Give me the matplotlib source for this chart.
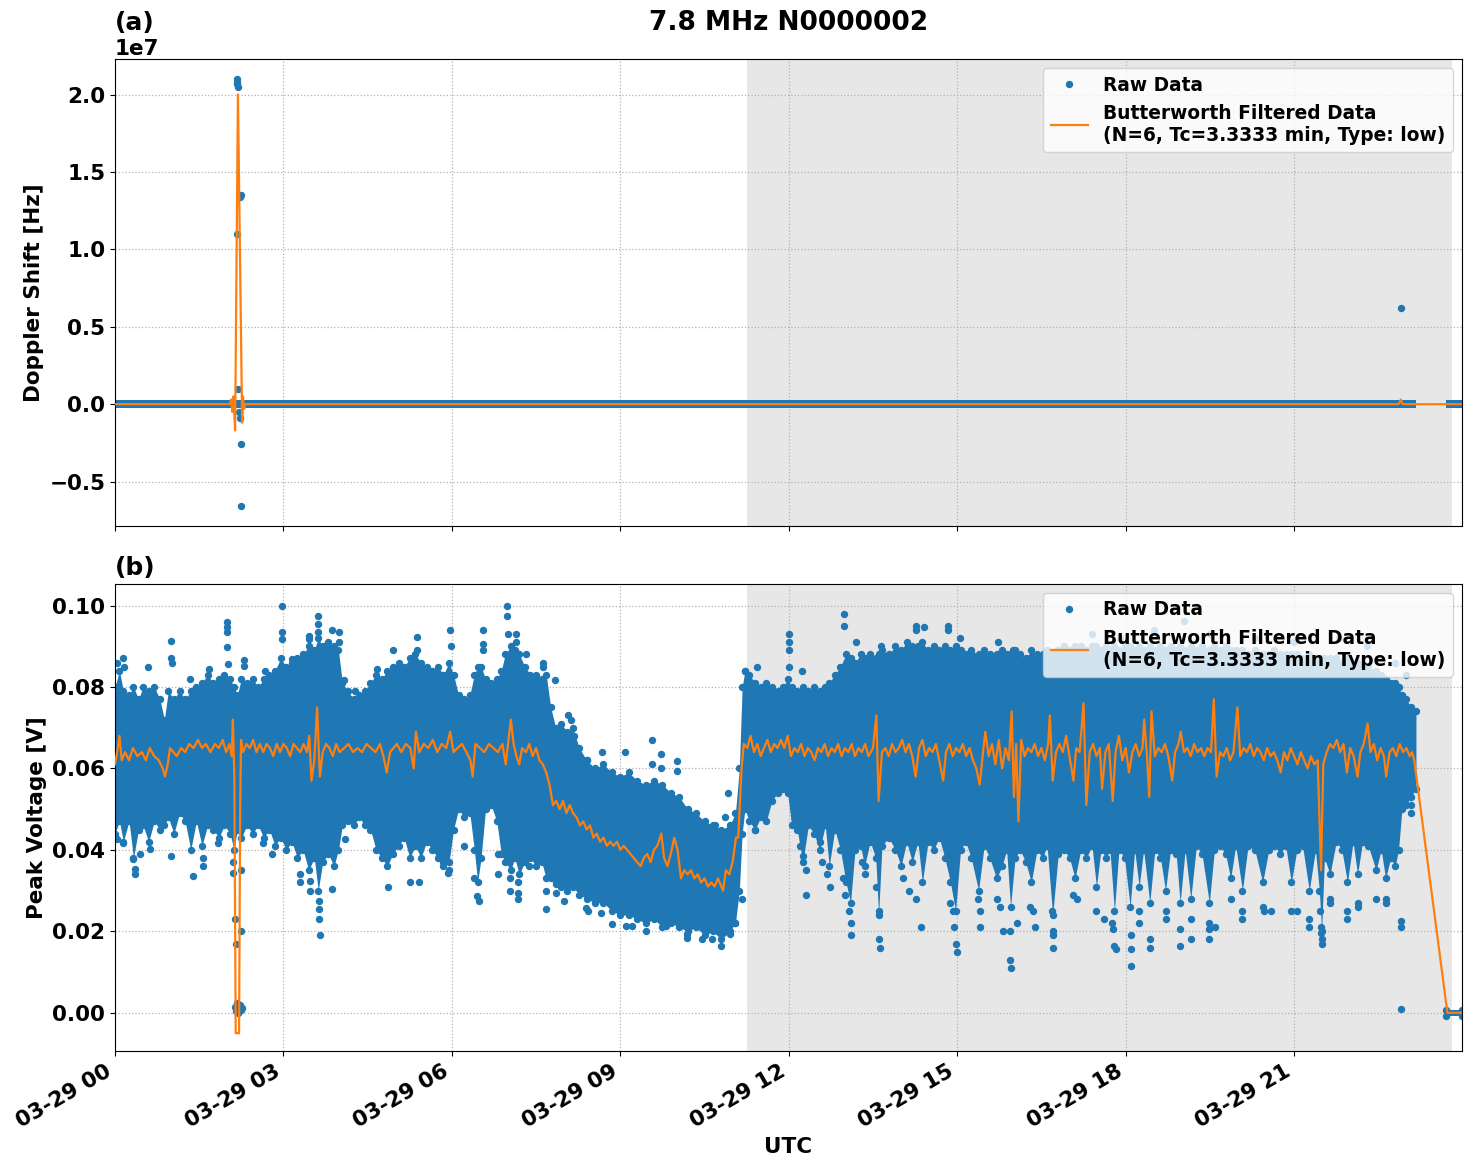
#!/usr/bin/env python3
"""Doppler shift / peak voltage for 7.8 MHz N0000002, raw vs Butterworth filtered."""

import datetime as dt

import matplotlib

matplotlib.use("Agg")
import matplotlib.dates as mdates
import matplotlib.pyplot as plt
import numpy as np

DAY = dt.datetime(2024, 3, 29)
TITLE = "7.8 MHz N0000002"
FILT_LABEL = "Butterworth Filtered Data\n(N=6, Tc=3.3333 min, Type: low)"

# shaded interval, hours UTC
shade_h = (11.25, 23.81)
# x range, hours UTC
xlim_h = (0.0, 23.99)

# ---- (a) Doppler shift [Hz] ----
# raw data sits on 0 most of the day: (start_h, end_h, half_thickness)
dop_band = [(0.0, 23.17, 0.024e7), (23.71, 23.99, 0.024e7)]
# raw outliers (hour, Hz)
dop_raw_pts = [
    (2.18, 2.10e7), (2.18, 2.08e7), (2.18, 2.065e7), (2.185, 2.05e7),
    (2.24, 1.35e7), (2.23, 1.34e7), (2.18, 1.10e7), (2.20, 0.10e7),
    (2.21, -0.05e7), (2.22, -0.09e7), (2.25, -0.26e7), (2.25, -0.66e7),
    (22.90, 0.62e7),
]
# filtered (hour, Hz)
dop_filt = [
    (0.00, 0.0), (2.04, 0.0), (2.07, 0.03e7), (2.09, -0.05e7), (2.11, 0.05e7),
    (2.14, -0.17e7), (2.19, 2.0e7), (2.265, -0.12e7), (2.28, 0.05e7),
    (2.30, -0.03e7), (2.32, 0.0), (22.86, 0.0), (22.90, 0.03e7), (22.93, 0.0),
    (23.99, 0.0),
]

# ---- (b) Peak voltage [V] ----
# dense raw cloud: (hour, lower edge, upper edge)
volt_band = [
    (0.00, 0.044, 0.080), (0.08, 0.047, 0.084), (0.15, 0.042, 0.079), (0.25, 0.047, 0.078),
    (0.33, 0.038, 0.080), (0.42, 0.045, 0.077), (0.50, 0.046, 0.080), (0.60, 0.042, 0.079),
    (0.70, 0.047, 0.080), (0.80, 0.045, 0.077), (0.88, 0.046, 0.072), (0.95, 0.048, 0.079),
    (1.05, 0.044, 0.077), (1.15, 0.049, 0.079), (1.25, 0.047, 0.077), (1.35, 0.040, 0.079),
    (1.45, 0.047, 0.080), (1.55, 0.041, 0.081), (1.65, 0.046, 0.083), (1.75, 0.045, 0.081),
    (1.85, 0.043, 0.082), (1.95, 0.046, 0.083), (2.05, 0.044, 0.082), (2.12, 0.040, 0.080),
    (2.18, 0.045, 0.078), (2.25, 0.043, 0.082), (2.35, 0.046, 0.081), (2.45, 0.044, 0.082),
    (2.55, 0.046, 0.080), (2.65, 0.043, 0.082), (2.75, 0.045, 0.083), (2.85, 0.041, 0.084),
    (2.95, 0.043, 0.087), (3.05, 0.040, 0.085), (3.15, 0.042, 0.086), (3.25, 0.038, 0.087),
    (3.35, 0.040, 0.088), (3.45, 0.035, 0.090), (3.55, 0.038, 0.089), (3.62, 0.030, 0.092),
    (3.70, 0.037, 0.090), (3.80, 0.039, 0.091), (3.90, 0.036, 0.090), (3.98, 0.040, 0.089),
    (4.05, 0.046, 0.081), (4.15, 0.047, 0.079), (4.25, 0.046, 0.077), (4.35, 0.048, 0.078),
    (4.45, 0.046, 0.079), (4.55, 0.045, 0.081), (4.65, 0.040, 0.083), (4.75, 0.038, 0.082),
    (4.85, 0.036, 0.084), (4.95, 0.039, 0.085), (5.05, 0.041, 0.086), (5.15, 0.043, 0.085),
    (5.25, 0.038, 0.087), (5.35, 0.041, 0.088), (5.45, 0.038, 0.086), (5.55, 0.042, 0.085),
    (5.65, 0.040, 0.084), (5.75, 0.038, 0.085), (5.85, 0.036, 0.083), (5.95, 0.037, 0.086),
    (6.03, 0.045, 0.083), (6.12, 0.050, 0.078), (6.22, 0.048, 0.077), (6.32, 0.049, 0.078),
    (6.40, 0.040, 0.083), (6.46, 0.032, 0.085), (6.52, 0.038, 0.085), (6.60, 0.050, 0.082),
    (6.70, 0.051, 0.081), (6.80, 0.047, 0.082), (6.88, 0.039, 0.084), (6.95, 0.037, 0.088),
    (7.05, 0.035, 0.090), (7.12, 0.038, 0.089), (7.20, 0.034, 0.088), (7.30, 0.037, 0.085),
    (7.40, 0.038, 0.083), (7.50, 0.036, 0.083), (7.60, 0.037, 0.082), (7.68, 0.033, 0.083),
    (7.76, 0.033, 0.075), (7.85, 0.032, 0.070), (7.95, 0.031, 0.071), (8.05, 0.030, 0.069),
    (8.15, 0.031, 0.070), (8.27, 0.029, 0.065), (8.40, 0.028, 0.062), (8.55, 0.027, 0.060),
    (8.70, 0.027, 0.061), (8.85, 0.025, 0.059), (9.00, 0.024, 0.058), (9.15, 0.024, 0.059),
    (9.30, 0.023, 0.057), (9.45, 0.022, 0.056), (9.60, 0.023, 0.057), (9.75, 0.021, 0.056),
    (9.90, 0.022, 0.054), (10.05, 0.021, 0.053), (10.20, 0.020, 0.050), (10.35, 0.021, 0.049),
    (10.50, 0.019, 0.047), (10.65, 0.020, 0.046), (10.80, 0.018, 0.045), (10.95, 0.020, 0.046),
    (11.05, 0.022, 0.049), (11.12, 0.030, 0.060), (11.17, 0.044, 0.080), (11.22, 0.050, 0.084),
    (11.30, 0.047, 0.083), (11.40, 0.045, 0.081), (11.50, 0.048, 0.080), (11.60, 0.047, 0.081),
    (11.70, 0.052, 0.080), (11.80, 0.054, 0.079), (11.90, 0.055, 0.080), (11.98, 0.054, 0.082),
    (12.05, 0.046, 0.080), (12.15, 0.045, 0.079), (12.25, 0.037, 0.080), (12.35, 0.046, 0.079),
    (12.45, 0.044, 0.080), (12.55, 0.040, 0.079), (12.65, 0.046, 0.080), (12.72, 0.036, 0.081),
    (12.82, 0.045, 0.083), (12.92, 0.040, 0.085), (13.02, 0.032, 0.088), (13.10, 0.027, 0.087),
    (13.18, 0.040, 0.086), (13.28, 0.041, 0.088), (13.35, 0.036, 0.087), (13.45, 0.042, 0.088),
    (13.55, 0.038, 0.087), (13.60, 0.024, 0.088), (13.66, 0.041, 0.089), (13.78, 0.043, 0.088),
    (13.90, 0.040, 0.090), (14.00, 0.036, 0.089), (14.10, 0.042, 0.091), (14.20, 0.037, 0.090),
    (14.30, 0.042, 0.090), (14.38, 0.032, 0.091), (14.48, 0.042, 0.089), (14.58, 0.040, 0.090),
    (14.68, 0.043, 0.089), (14.78, 0.038, 0.090), (14.88, 0.032, 0.089), (14.97, 0.025, 0.090),
    (15.06, 0.040, 0.089), (15.15, 0.042, 0.088), (15.25, 0.038, 0.089), (15.38, 0.030, 0.088),
    (15.48, 0.041, 0.089), (15.58, 0.038, 0.088), (15.70, 0.033, 0.088), (15.80, 0.036, 0.089),
    (15.88, 0.040, 0.088), (15.95, 0.026, 0.088), (16.03, 0.038, 0.089), (16.12, 0.040, 0.088),
    (16.22, 0.037, 0.087), (16.32, 0.032, 0.089), (16.42, 0.040, 0.088), (16.52, 0.038, 0.088),
    (16.60, 0.041, 0.089), (16.70, 0.024, 0.088), (16.80, 0.039, 0.089), (16.90, 0.040, 0.090),
    (17.00, 0.038, 0.089), (17.10, 0.033, 0.090), (17.20, 0.040, 0.090), (17.30, 0.038, 0.089),
    (17.40, 0.041, 0.090), (17.48, 0.031, 0.090), (17.56, 0.040, 0.089), (17.65, 0.038, 0.090),
    (17.72, 0.040, 0.089), (17.80, 0.025, 0.090), (17.88, 0.040, 0.089), (17.98, 0.038, 0.090),
    (18.08, 0.026, 0.090), (18.16, 0.040, 0.089), (18.24, 0.031, 0.090), (18.32, 0.040, 0.089),
    (18.43, 0.027, 0.090), (18.52, 0.040, 0.089), (18.62, 0.038, 0.090), (18.71, 0.030, 0.089),
    (18.80, 0.040, 0.090), (18.90, 0.039, 0.089), (18.97, 0.027, 0.090), (19.06, 0.040, 0.089),
    (19.16, 0.028, 0.090), (19.26, 0.041, 0.089), (19.36, 0.039, 0.090), (19.49, 0.027, 0.089),
    (19.58, 0.040, 0.090), (19.68, 0.041, 0.089), (19.78, 0.039, 0.090), (19.87, 0.033, 0.089),
    (19.96, 0.041, 0.089), (20.08, 0.030, 0.089), (20.18, 0.041, 0.088), (20.30, 0.040, 0.089),
    (20.44, 0.032, 0.088), (20.55, 0.040, 0.088), (20.65, 0.041, 0.089), (20.75, 0.039, 0.088),
    (20.85, 0.041, 0.088), (20.95, 0.032, 0.088), (21.05, 0.040, 0.088), (21.15, 0.041, 0.087),
    (21.27, 0.030, 0.088), (21.38, 0.040, 0.087), (21.45, 0.030, 0.087), (21.49, 0.020, 0.087),
    (21.54, 0.038, 0.087), (21.64, 0.034, 0.087), (21.75, 0.042, 0.087), (21.85, 0.040, 0.086),
    (21.95, 0.032, 0.087), (22.05, 0.042, 0.086), (22.13, 0.034, 0.086), (22.22, 0.042, 0.085),
    (22.32, 0.041, 0.085), (22.46, 0.035, 0.084), (22.55, 0.040, 0.083), (22.63, 0.033, 0.082),
    (22.72, 0.038, 0.081), (22.80, 0.036, 0.081), (22.86, 0.040, 0.080), (22.92, 0.050, 0.078),
    (23.00, 0.051, 0.077), (23.08, 0.053, 0.075), (23.17, 0.055, 0.074),
]
# raw zeros after the gap at the end of the day
volt_zero_band = [(23.71, -0.0008, 0.0008), (23.99, -0.0008, 0.0008)]

# scattered raw points outside the dense cloud (hour, V)
volt_raw_pts = [
    # 00-06 upper
    (0.03, 0.086), (0.15, 0.087), (0.16, 0.085), (0.59, 0.085), (1.00, 0.0914),
    (1.00, 0.087), (1.01, 0.086), (1.33, 0.082), (1.67, 0.0844), (2.00, 0.0959),
    (2.00, 0.0947), (2.00, 0.0934), (2.00, 0.0898), (2.01, 0.0857), (2.29, 0.0865),
    (2.29, 0.0852), (2.67, 0.084), (2.98, 0.100), (2.98, 0.0934), (2.98, 0.0918),
    (3.16, 0.0869), (3.29, 0.0865), (3.46, 0.0926), (3.46, 0.0918), (3.61, 0.0975),
    (3.61, 0.0955), (3.61, 0.0934), (3.87, 0.094), (3.99, 0.0934), (3.99, 0.091),
    (4.08, 0.0816), (4.28, 0.079), (4.67, 0.0844), (4.96, 0.089), (5.38, 0.0922),
    (5.38, 0.089), (5.82, 0.083), (5.97, 0.094), (5.98, 0.090),
    # 00-06 lower
    (0.03, 0.0426), (0.15, 0.0418), (0.32, 0.0377), (0.35, 0.0352), (0.35, 0.034),
    (0.44, 0.039), (0.62, 0.0402), (1.00, 0.0385), (1.39, 0.0336), (1.57, 0.038),
    (1.57, 0.036), (1.83, 0.0418), (2.10, 0.0369), (2.11, 0.0344), (2.14, 0.023),
    (2.15, 0.0168), (2.24, 0.020), (2.24, 0.035), (2.63, 0.0418), (2.80, 0.039),
    (3.29, 0.034), (3.29, 0.032), (3.48, 0.0324), (3.48, 0.030), (3.63, 0.0275),
    (3.63, 0.0254), (3.64, 0.023), (3.65, 0.019), (3.87, 0.0303), (4.10, 0.0426),
    (4.87, 0.031), (5.26, 0.032), (5.42, 0.032), (5.77, 0.041), (5.85, 0.037),
    (5.94, 0.0344), (5.95, 0.035),
    # drop-out to zero near 02:10
    (2.14, 0.0015), (2.16, 0.0005), (2.18, 0.001), (2.18, 0.0025), (2.20, 0.0),
    (2.22, 0.002), (2.24, 0.0008), (2.27, 0.0012),
    # 06-11 upper
    (6.55, 0.094), (6.55, 0.0906), (6.56, 0.089), (6.99, 0.100), (6.99, 0.0975),
    (7.00, 0.093), (7.15, 0.093), (7.15, 0.091), (7.32, 0.088), (7.62, 0.086),
    (7.62, 0.085), (7.83, 0.0816), (8.07, 0.073), (8.12, 0.072), (8.18, 0.068),
    (8.40, 0.062), (8.67, 0.064), (8.70, 0.059), (9.09, 0.064), (9.57, 0.067),
    (9.57, 0.061), (9.73, 0.0635), (9.73, 0.060), (10.01, 0.0617), (10.01, 0.0594),
    (10.20, 0.0496), (10.48, 0.046), (10.69, 0.046), (10.86, 0.048), (10.92, 0.054),
    (11.22, 0.084), (11.43, 0.085),
    # 06-11 lower
    (6.22, 0.041), (6.40, 0.033), (6.45, 0.0287), (6.49, 0.0275), (6.83, 0.039),
    (6.83, 0.034), (7.04, 0.033), (7.04, 0.030), (7.17, 0.032), (7.17, 0.0295),
    (7.17, 0.028), (7.38, 0.036), (7.67, 0.030), (7.67, 0.0254), (7.86, 0.0316),
    (7.86, 0.0295), (8.00, 0.0275), (8.39, 0.0258), (8.42, 0.025), (8.66, 0.0246),
    (8.85, 0.0217), (9.10, 0.0213), (9.20, 0.0213), (9.46, 0.020), (9.82, 0.0213),
    (10.19, 0.0193), (10.19, 0.0184), (10.45, 0.018), (10.63, 0.018), (10.80, 0.0164),
    (10.95, 0.0193), (11.04, 0.022), (11.16, 0.0279), (11.40, 0.050), (11.40, 0.045),
    # 12-17 upper
    (12.00, 0.093), (12.00, 0.091), (12.00, 0.089), (12.00, 0.085), (12.24, 0.084),
    (12.99, 0.098), (12.99, 0.095), (13.20, 0.091), (13.65, 0.090), (14.27, 0.095),
    (14.27, 0.094), (14.40, 0.0947), (14.84, 0.095), (14.84, 0.094), (15.05, 0.092),
    (15.73, 0.091), (15.99, 0.089),
    # 12-17 lower
    (12.20, 0.041), (12.25, 0.0385), (12.30, 0.035), (12.30, 0.029), (12.55, 0.042),
    (12.60, 0.037), (12.68, 0.034), (12.73, 0.031), (12.96, 0.033), (13.00, 0.029),
    (13.08, 0.025), (13.11, 0.022), (13.11, 0.019), (13.30, 0.037), (13.35, 0.034),
    (13.56, 0.031), (13.60, 0.025), (13.60, 0.018), (13.62, 0.016), (14.04, 0.033),
    (14.15, 0.030), (14.27, 0.028), (14.36, 0.021), (14.87, 0.027), (14.92, 0.025),
    (14.95, 0.021), (14.97, 0.017), (14.99, 0.015), (15.37, 0.028), (15.40, 0.025),
    (15.40, 0.021), (15.70, 0.028), (15.76, 0.026), (15.82, 0.020), (15.94, 0.020),
    (15.94, 0.013), (15.95, 0.011), (16.06, 0.022), (16.30, 0.026), (16.35, 0.025),
    (16.39, 0.021), (16.68, 0.025), (16.70, 0.020), (16.70, 0.019), (16.71, 0.016),
    (17.07, 0.029), (17.13, 0.028),
    # 17-23 upper (partly behind the legend)
    (17.40, 0.093), (17.90, 0.092), (18.50, 0.094), (19.04, 0.0963), (19.50, 0.093),
    (20.30, 0.092), (21.00, 0.091), (21.80, 0.092), (22.30, 0.090), (22.80, 0.086),
    (23.00, 0.083),
    # 17-23 lower
    (17.47, 0.025), (17.61, 0.023), (17.76, 0.022), (17.78, 0.0205), (17.80, 0.0164),
    (17.82, 0.0156), (18.09, 0.019), (18.09, 0.0156), (18.09, 0.0115), (18.24, 0.025),
    (18.24, 0.022), (18.43, 0.018), (18.43, 0.016), (18.71, 0.023), (18.71, 0.025),
    (18.97, 0.0205), (18.97, 0.0164), (19.16, 0.023), (19.16, 0.018), (19.49, 0.022),
    (19.49, 0.0205), (19.49, 0.018), (19.60, 0.021), (19.87, 0.028), (20.08, 0.025),
    (20.08, 0.023), (20.44, 0.026), (20.46, 0.025), (20.58, 0.025), (20.94, 0.025),
    (21.06, 0.025), (21.27, 0.023), (21.27, 0.021), (21.47, 0.025), (21.48, 0.021),
    (21.48, 0.0197), (21.50, 0.018), (21.50, 0.017), (21.64, 0.028), (21.64, 0.027),
    (21.95, 0.025), (21.95, 0.023), (22.13, 0.027), (22.13, 0.026), (22.46, 0.028),
    (22.63, 0.028), (22.63, 0.027), (22.90, 0.0225), (22.90, 0.021), (22.90, 0.001),
    (23.08, 0.051), (23.08, 0.049),
]

# Butterworth filtered peak voltage (hour, V)
volt_filt = [
    (0.00, 0.061), (0.05, 0.065), (0.08, 0.068), (0.12, 0.062), (0.18, 0.064),
    (0.25, 0.062), (0.32, 0.065), (0.40, 0.063), (0.48, 0.064), (0.55, 0.062),
    (0.62, 0.065), (0.70, 0.063), (0.78, 0.062), (0.85, 0.060), (0.89, 0.058),
    (0.94, 0.061), (0.98, 0.065), (1.04, 0.064), (1.10, 0.063), (1.18, 0.065),
    (1.25, 0.064), (1.32, 0.066), (1.40, 0.065), (1.48, 0.067), (1.55, 0.065),
    (1.62, 0.066), (1.70, 0.064), (1.78, 0.066), (1.85, 0.065), (1.92, 0.067),
    (1.98, 0.064), (2.04, 0.066), (2.08, 0.063), (2.10, 0.072), (2.126, 0.058),
    (2.15, -0.005), (2.21, -0.005), (2.23, 0.050), (2.245, 0.067), (2.28, 0.064),
    (2.34, 0.066), (2.40, 0.065), (2.46, 0.067), (2.52, 0.064), (2.58, 0.066),
    (2.64, 0.064), (2.70, 0.066), (2.76, 0.065), (2.82, 0.063), (2.88, 0.066),
    (2.94, 0.064), (3.00, 0.066), (3.06, 0.065), (3.12, 0.063), (3.18, 0.066),
    (3.24, 0.065), (3.30, 0.064), (3.36, 0.066), (3.42, 0.064), (3.46, 0.068),
    (3.50, 0.057), (3.55, 0.062), (3.60, 0.075), (3.65, 0.058), (3.70, 0.064),
    (3.76, 0.066), (3.82, 0.065), (3.88, 0.063), (3.94, 0.066), (4.00, 0.064),
    (4.08, 0.065), (4.16, 0.066), (4.24, 0.064), (4.32, 0.065), (4.40, 0.064),
    (4.48, 0.066), (4.56, 0.065), (4.64, 0.064), (4.72, 0.066), (4.78, 0.063),
    (4.84, 0.059), (4.90, 0.064), (4.96, 0.065), (5.02, 0.066), (5.10, 0.064),
    (5.18, 0.066), (5.26, 0.065), (5.32, 0.060), (5.36, 0.069), (5.42, 0.064),
    (5.50, 0.066), (5.58, 0.065), (5.66, 0.067), (5.74, 0.064), (5.82, 0.066),
    (5.90, 0.065), (5.97, 0.069), (6.03, 0.064), (6.10, 0.065), (6.18, 0.066),
    (6.26, 0.064), (6.33, 0.062), (6.37, 0.058), (6.42, 0.066), (6.50, 0.065),
    (6.58, 0.064), (6.66, 0.066), (6.74, 0.065), (6.82, 0.064), (6.90, 0.066),
    (6.96, 0.061), (7.00, 0.066), (7.05, 0.072), (7.10, 0.066), (7.15, 0.063),
    (7.20, 0.061), (7.25, 0.065), (7.32, 0.064), (7.38, 0.066), (7.44, 0.063),
    (7.50, 0.065), (7.56, 0.062), (7.62, 0.061), (7.68, 0.059), (7.74, 0.056),
    (7.80, 0.051), (7.86, 0.052), (7.92, 0.050), (7.98, 0.052), (8.04, 0.049),
    (8.10, 0.051), (8.16, 0.049), (8.22, 0.048), (8.28, 0.046), (8.34, 0.047),
    (8.40, 0.045), (8.46, 0.046), (8.52, 0.043), (8.58, 0.044), (8.64, 0.042),
    (8.70, 0.043), (8.76, 0.041), (8.82, 0.042), (8.88, 0.041), (8.94, 0.042),
    (9.00, 0.040), (9.06, 0.041), (9.12, 0.040), (9.18, 0.039), (9.24, 0.038),
    (9.30, 0.037), (9.36, 0.036), (9.42, 0.038), (9.48, 0.039), (9.54, 0.037),
    (9.60, 0.040), (9.66, 0.041), (9.73, 0.044), (9.78, 0.038), (9.84, 0.036),
    (9.90, 0.039), (9.96, 0.043), (10.02, 0.040), (10.08, 0.033), (10.14, 0.035),
    (10.20, 0.034), (10.26, 0.035), (10.32, 0.033), (10.38, 0.034), (10.44, 0.032),
    (10.50, 0.033), (10.56, 0.031), (10.62, 0.032), (10.68, 0.031), (10.74, 0.033),
    (10.80, 0.031), (10.83, 0.030), (10.88, 0.035), (10.94, 0.034), (11.00, 0.037),
    (11.06, 0.043), (11.10, 0.043), (11.16, 0.060), (11.20, 0.066), (11.26, 0.065),
    (11.32, 0.068), (11.38, 0.064), (11.44, 0.066), (11.50, 0.063), (11.56, 0.065),
    (11.62, 0.067), (11.68, 0.064), (11.74, 0.066), (11.80, 0.065), (11.86, 0.067),
    (11.92, 0.065), (11.98, 0.068), (12.04, 0.063), (12.10, 0.065), (12.16, 0.064),
    (12.22, 0.066), (12.28, 0.063), (12.34, 0.065), (12.40, 0.064), (12.46, 0.062),
    (12.52, 0.065), (12.58, 0.064), (12.64, 0.066), (12.70, 0.063), (12.76, 0.065),
    (12.82, 0.064), (12.88, 0.066), (12.94, 0.063), (13.00, 0.065), (13.06, 0.064),
    (13.12, 0.066), (13.18, 0.063), (13.24, 0.065), (13.30, 0.064), (13.36, 0.066),
    (13.42, 0.063), (13.50, 0.065), (13.56, 0.073), (13.60, 0.052), (13.66, 0.064),
    (13.72, 0.065), (13.78, 0.063), (13.84, 0.066), (13.90, 0.064), (13.96, 0.065),
    (14.02, 0.067), (14.08, 0.064), (14.14, 0.066), (14.20, 0.063), (14.26, 0.058),
    (14.32, 0.065), (14.38, 0.067), (14.44, 0.063), (14.50, 0.065), (14.56, 0.064),
    (14.62, 0.066), (14.68, 0.062), (14.75, 0.057), (14.80, 0.064), (14.86, 0.066),
    (14.92, 0.063), (14.98, 0.065), (15.04, 0.064), (15.10, 0.066), (15.16, 0.063),
    (15.22, 0.065), (15.28, 0.062), (15.34, 0.060), (15.40, 0.056), (15.46, 0.064),
    (15.50, 0.069), (15.56, 0.063), (15.62, 0.066), (15.68, 0.061), (15.74, 0.067),
    (15.80, 0.060), (15.86, 0.065), (15.92, 0.062), (15.97, 0.074), (16.01, 0.053),
    (16.05, 0.066), (16.09, 0.047), (16.14, 0.067), (16.20, 0.063), (16.26, 0.065),
    (16.32, 0.064), (16.38, 0.066), (16.44, 0.063), (16.50, 0.065), (16.56, 0.062),
    (16.62, 0.066), (16.65, 0.073), (16.70, 0.057), (16.76, 0.064), (16.82, 0.066),
    (16.88, 0.064), (16.94, 0.068), (17.00, 0.063), (17.07, 0.057), (17.12, 0.065),
    (17.18, 0.064), (17.25, 0.076), (17.30, 0.051), (17.36, 0.064), (17.42, 0.066),
    (17.48, 0.063), (17.54, 0.065), (17.58, 0.055), (17.64, 0.064), (17.70, 0.066),
    (17.77, 0.052), (17.82, 0.064), (17.88, 0.068), (17.94, 0.062), (18.00, 0.065),
    (18.06, 0.059), (18.12, 0.064), (18.18, 0.066), (18.24, 0.063), (18.30, 0.065),
    (18.33, 0.072), (18.38, 0.063), (18.42, 0.053), (18.46, 0.074), (18.52, 0.063),
    (18.58, 0.065), (18.64, 0.064), (18.70, 0.066), (18.76, 0.063), (18.83, 0.057),
    (18.88, 0.064), (18.94, 0.066), (18.98, 0.069), (19.04, 0.064), (19.10, 0.065),
    (19.16, 0.063), (19.22, 0.066), (19.28, 0.064), (19.34, 0.065), (19.40, 0.063),
    (19.46, 0.065), (19.52, 0.064), (19.57, 0.077), (19.62, 0.058), (19.68, 0.064),
    (19.74, 0.063), (19.80, 0.065), (19.86, 0.062), (19.92, 0.064), (19.99, 0.075),
    (20.04, 0.063), (20.10, 0.065), (20.16, 0.064), (20.22, 0.066), (20.28, 0.063),
    (20.34, 0.065), (20.40, 0.064), (20.46, 0.062), (20.52, 0.065), (20.58, 0.063),
    (20.64, 0.064), (20.70, 0.062), (20.76, 0.059), (20.82, 0.064), (20.88, 0.062),
    (20.94, 0.065), (21.00, 0.063), (21.06, 0.061), (21.12, 0.064), (21.18, 0.062),
    (21.24, 0.060), (21.30, 0.063), (21.36, 0.061), (21.42, 0.062), (21.48, 0.035),
    (21.52, 0.061), (21.58, 0.064), (21.64, 0.066), (21.70, 0.065), (21.76, 0.067),
    (21.82, 0.064), (21.88, 0.066), (21.94, 0.059), (22.00, 0.065), (22.06, 0.063),
    (22.13, 0.058), (22.18, 0.064), (22.24, 0.066), (22.31, 0.071), (22.36, 0.064),
    (22.42, 0.066), (22.48, 0.062), (22.54, 0.065), (22.60, 0.063), (22.64, 0.058),
    (22.70, 0.064), (22.76, 0.065), (22.82, 0.063), (22.88, 0.066), (22.94, 0.064),
    (23.00, 0.065), (23.06, 0.063), (23.10, 0.064), (23.14, 0.062), (23.73, 0.000),
    (23.99, 0.000),
]

C_RAW = "#1f77b4"
C_FILT = "#ff7f0e"
MS = 4.3


def to_time(hours):
    return [DAY + dt.timedelta(hours=float(h)) for h in hours]


def draw_panel(ax, bands, raw_pts, filt, letter, ylabel, ylim, edge_dots=True):
    ax.axvspan(*to_time(shade_h), color="#e7e7e7", zorder=0, lw=0)
    for band in bands:
        h, lo, hi = np.array(band).T
        t = to_time(h)
        ax.fill_between(t, lo, hi, color=C_RAW, lw=0, zorder=2)
        if edge_dots:
            ax.plot(t, lo, "o", color=C_RAW, ms=MS, zorder=2)
            ax.plot(t, hi, "o", color=C_RAW, ms=MS, zorder=2)
    ph, pv = np.array(raw_pts).T
    ax.plot(to_time(ph), pv, "o", color=C_RAW, ms=MS, ls="none", zorder=2, label="Raw Data")
    fh, fv = np.array(filt).T
    ax.plot(to_time(fh), fv, color=C_FILT, lw=1.6, zorder=3, label=FILT_LABEL)

    ax.set_xlim(*to_time(xlim_h))
    ax.set_ylim(*ylim)
    ax.grid(True, linestyle=":", color="0.7", lw=0.9)
    ax.set_ylabel(ylabel)
    ax.set_title(letter, loc="left", fontsize=18, fontweight="bold")
    ax.legend(loc="upper right", prop={"weight": "bold", "size": 13.4})


plt.rcParams.update({
    "font.weight": "bold",
    "axes.labelweight": "bold",
    "axes.titleweight": "bold",
    "font.size": 15.5,
})

fig, (ax1, ax2) = plt.subplots(2, 1, figsize=(14.72, 11.72), dpi=100, sharex=True)
fig.subplots_adjust(left=0.0781, right=0.9932, bottom=0.1032, top=0.9497, hspace=0.122)

dop_bands = [[(s, -w, w), (e, -w, w)] for s, e, w in dop_band]
draw_panel(ax1, dop_bands, dop_raw_pts, dop_filt, "(a)", "Doppler Shift [Hz]",
           (-0.79e7, 2.23e7), edge_dots=False)
ax1.set_title(TITLE, fontsize=19, fontweight="bold")

draw_panel(ax2, [volt_band, volt_zero_band], volt_raw_pts, volt_filt, "(b)", "Peak Voltage [V]",
           (-0.0094, 0.1054))
ax2.set_xlabel("UTC")
ax2.xaxis.set_major_locator(mdates.HourLocator(byhour=range(0, 24, 3)))
ax2.xaxis.set_major_formatter(mdates.DateFormatter("%m-%d %H"))
plt.setp(ax2.get_xticklabels(), rotation=30, ha="right")

fig.savefig("out.png", dpi=100)
plt.close(fig)
